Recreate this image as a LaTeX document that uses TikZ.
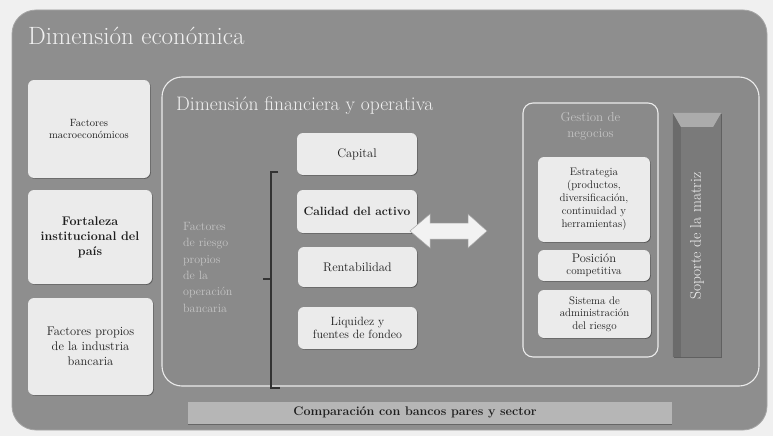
\documentclass[tikz,border=0pt]{standalone}
\usepackage{fontspec}
\usetikzlibrary{shadows}
\definecolor{pagebg}{HTML}{F0F0F0}
\definecolor{outerfill}{HTML}{8E8E8E}
\definecolor{innerfill}{HTML}{8A8A8A}
\definecolor{boxfill}{HTML}{EBEBEB}
\definecolor{boxtext}{HTML}{1E1E1E}
\definecolor{dimtext}{HTML}{C4C4C4}
\definecolor{barfill}{HTML}{B6B6B6}
\definecolor{pillar}{HTML}{7A7A7A}
\definecolor{pillartop}{HTML}{ABABAB}
\newcommand{\heavy}{\addfontfeature{FakeBold=0.5}}
\newcommand{\semiheavy}{\addfontfeature{FakeBold=0.3}}
\tikzset{
  lightbox/.style={rectangle, rounded corners=6pt, fill=boxfill, text=boxtext,
    align=center, inner sep=2pt,
    drop shadow={shadow xshift=0.8pt, shadow yshift=-0.8pt, opacity=0.35, fill=black}},
  frame/.style={draw=white!92!black, line width=1.1pt},
  bracketline/.style={draw=black!80, line width=1.2pt},
}
\begin{document}
\begin{tikzpicture}[x=1pt,y=-1pt]
\useasboundingbox (0,0) rectangle (773,436);
\fill[pagebg] (0,0) rectangle (773,436);

% outer box
\node[rectangle, rounded corners=24pt, fill=outerfill, draw=outerfill!80!white, line width=0.8pt,
  minimum width=755pt, minimum height=420pt, inner sep=0pt] (outer) at (389.5,220) {};
\node[anchor=base west, text=white!94!black, font=\fontsize{25}{30}\selectfont\semiheavy, inner sep=0pt]
  (outertitle) at (28,45) {Dimensión económica};

% left boxes
\node[lightbox, minimum width=122pt, minimum height=98pt, font=\fontsize{10.5}{12.5}\selectfont\addfontfeature{LetterSpace=8}\semiheavy]
  (macro) at (89,129) {Factores\\macroeconómicos};
\node[lightbox, minimum width=124pt, minimum height=94pt, font=\fontsize{12.5}{15}\selectfont\bfseries]
  (fort) at (90,237) {Fortaleza\\institucional del\\país};
\node[lightbox, minimum width=125pt, minimum height=97pt, font=\fontsize{12.5}{15}\selectfont\heavy]
  (indus) at (90.5,346.5) {Factores propios\\de la industria\\bancaria};

% inner box
\node[rectangle, rounded corners=20pt, fill=innerfill, frame,
  minimum width=597pt, minimum height=309pt, inner sep=0pt] (inner) at (460.5,231.5) {};
\node[anchor=base west, text=white!94!black, font=\fontsize{19.5}{24}\selectfont\semiheavy, inner sep=0pt]
  (innertitle) at (176,110) {Dimensión financiera y operativa};

% risk factors label
\node[anchor=north west, text=dimtext, align=left, inner sep=0pt,
  font=\fontsize{12}{16.4}\selectfont\semiheavy] (riesgo) at (183,222)
  {Factores\\de riesgo\\propios\\de la\\operación\\bancaria};

% bracket
\coordinate (bt) at (271,172);
\coordinate (bb) at (271,388);
\coordinate (bm) at (271,279);
\draw[bracketline] ([xshift=7pt]bt) -- (bt) -- (bb) -- ([xshift=9pt]bb);
\draw[bracketline] (bm) -- ([xshift=-8pt]bm);

% middle boxes
\node[lightbox, minimum width=120pt, minimum height=42pt, font=\fontsize{12.5}{15}\selectfont\heavy]
  (capital) at (357,154) {Capital};
\node[lightbox, minimum width=120pt, minimum height=43pt, font=\fontsize{12}{15}\selectfont\bfseries]
  (calidad) at (357,211.5) {Calidad del activo};
\node[lightbox, minimum width=119pt, minimum height=40pt, font=\fontsize{12.5}{15}\selectfont\heavy]
  (rent) at (357.5,267) {Rentabilidad};
\node[lightbox, minimum width=119pt, minimum height=42pt, font=\fontsize{12}{13.5}\selectfont\heavy]
  (liq) at (357.5,328) {Liquidez y\\fuentes de fondeo};

% double arrow
\coordinate (al) at (410,231);
\coordinate (ar) at (487,231);
\filldraw[fill=white!95!black, draw=black!35, line width=0.5pt]
  (al) -- (430,214) -- (430,223) -- (468,223) -- (468,214) -- (ar)
  -- (468,248) -- (468,239) -- (430,239) -- (430,248) -- cycle;

% gestion box
\node[rectangle, rounded corners=10pt, fill=innerfill, frame,
  minimum width=135pt, minimum height=254pt, inner sep=0pt] (gestion) at (590.5,230) {};
\node[anchor=north, text=dimtext, align=center, inner sep=0pt,
  font=\fontsize{13}{16}\selectfont\semiheavy] (gestiontitle) at (590.5,112) {Gestion de\\negocios};
\node[lightbox, minimum width=112pt, minimum height=85pt, font=\fontsize{11}{13}\selectfont\heavy]
  (estr) at (594,199.5) {Estrategia\\(productos,\\diversificación,\\continuidad y\\herramientas)};
\node[lightbox, minimum width=112pt, minimum height=31pt, font=\fontsize{11}{12}\selectfont\heavy]
  (pos) at (594,265.5) {{\fontsize{12.5}{12}\selectfont Posición}\\competitiva};
\node[lightbox, minimum width=113pt, minimum height=48pt, font=\fontsize{11}{12.5}\selectfont\heavy]
  (sist) at (594.5,314) {Sistema de\\administración\\del riesgo};

% soporte pillar
\node[rectangle, fill=pillar, minimum width=48pt, minimum height=244pt, inner sep=0pt,
  drop shadow={shadow xshift=1pt, shadow yshift=-1pt, opacity=0.3, fill=black}] (pillar) at (697,235) {};
\fill[pillartop] (pillar.north west) -- (pillar.north east) -- ([xshift=-8pt,yshift=-14pt]pillar.north east)
  -- ([xshift=8pt,yshift=-14pt]pillar.north west) -- cycle;
\fill[black, opacity=0.12] (pillar.north west) -- ([xshift=8pt,yshift=-14pt]pillar.north west)
  -- ([xshift=8pt]pillar.south west) -- (pillar.south west) -- cycle;
\node[rotate=90, text=white!95!black, font=\fontsize{15.5}{18}\selectfont\semiheavy, inner sep=0pt]
  (soporte) at (697,236) {Soporte de la matriz};

% bottom bar
\node[rectangle, fill=barfill, minimum width=484pt, minimum height=23pt, inner sep=0pt] (bar) at (430,413.5) {};
\draw[black!60, line width=1.2pt] ([yshift=0.6pt]bar.south west) -- ([yshift=0.6pt]bar.south east);
\node[text=boxtext, font=\fontsize{12.5}{15}\selectfont\bfseries, inner sep=0pt] (bartext) at (415,412.5)
  {Comparación con bancos pares y sector};
\end{tikzpicture}
\end{document}
